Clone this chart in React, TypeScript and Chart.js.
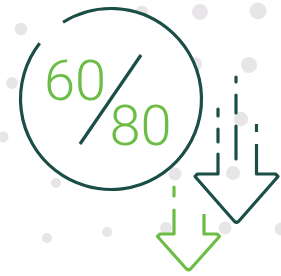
import React, { useEffect, useRef } from "react";
import { Chart, registerables } from "chart.js";

Chart.register(...registerables);

const W = 281;
const H = 276;

const DARK = "#1b4e46";
const GREEN = "#6cbd45";
const DOT = "#e7e5e8";

// background dots
const dotX = [21, 142, 200, 258, 249, 195, 12, 3, 241, 56, 175, 233, 107, 47, 166, 225, 281];
const dotY = [29, 12, 12, 11, 65, 64, 83, 137, 119, 183, 174, 173, 232, 238, 228, 228, 229];
const dotR = [6.3, 6.3, 8, 8.5, 8, 7, 6, 5.5, 7.2, 5, 6.5, 7, 5, 5, 6, 6.5, 6.5];

// ring
const ringCenter = [111, 99];
const ringRadius = 90.5;
const ringGap = [122, 142]; // degrees, counter-clockwise, y up

// slash
const slashX = [141, 80];
const slashY = [55, 144];

// dark arrow (null = gap between dashes)
const darkArrowX = [218, 218, null, 218, 218, null, 218, 218, 197.5, 195, 234.5, 236.5, 238.5, 278, 275.5, 256.5, 256.5, null, 256.5, 256.5];
const darkArrowY = [109, 116, null, 129, 142, null, 154, 174, 174, 176.5, 221.5, 222.5, 221.5, 176.5, 174, 174, 144, null, 132, 124];
const darkMidX = [236, 236, null, 236, 236, null, 236, 236];
const darkMidY = [77, 82, null, 95, 113, null, 126, 159];

// green arrow
const greenArrowX = [174, 174, null, 174, 174, 160, 157.5, 186.5, 188.5, 190.5, 219.5, 217, 204, 204];
const greenArrowY = [187, 196, null, 210, 234, 234, 236.5, 269, 270, 269, 236.5, 234, 234, 214];

// labels
const labelText = ["60", "80"];
const labelX = [75, 140.5];
const labelY = [100, 144.5];

const pts = (xs: (number | null)[], ys: (number | null)[]) =>
  xs.map((x, i) => ({ x: x === null ? NaN : x, y: ys[i] === null ? null : ys[i] }));

const overlay = {
  id: "overlay",
  afterDatasetsDraw(chart: any) {
    const { ctx } = chart;
    const xs = chart.scales.x;
    const ys = chart.scales.y;
    ctx.save();
    const cx = xs.getPixelForValue(ringCenter[0]);
    const cy = ys.getPixelForValue(ringCenter[1]);
    const r = Math.abs(xs.getPixelForValue(ringCenter[0] + ringRadius) - cx);
    ctx.strokeStyle = DARK;
    ctx.lineWidth = 3.2;
    ctx.lineCap = "butt";
    ctx.beginPath();
    ctx.arc(cx, cy, r, (-ringGap[1] * Math.PI) / 180, (-ringGap[0] * Math.PI) / 180, true);
    ctx.stroke();
    ctx.fillStyle = GREEN;
    ctx.font = "300 56px Roboto";
    ctx.textAlign = "center";
    ctx.textBaseline = "alphabetic";
    labelText.forEach((t, i) => {
      ctx.fillText(t, xs.getPixelForValue(labelX[i]), ys.getPixelForValue(labelY[i]));
    });
    ctx.restore();
  },
};

export default function App() {
  const ref = useRef<HTMLCanvasElement>(null);
  useEffect(() => {
    document.body.style.margin = "0";
    const lineDs = (data: any, color: string, order: number) => ({
      type: "line" as const,
      data,
      borderColor: color,
      borderWidth: 3.2,
      borderJoinStyle: "round" as const,
      borderCapStyle: "butt" as const,
      pointRadius: 0,
      pointHoverRadius: 0,
      spanGaps: false,
      fill: false,
      tension: 0,
      clip: false as any,
      order,
    });
    const chart = new Chart(ref.current!, {
      type: "scatter",
      data: {
        datasets: [
          lineDs(pts(slashX, slashY), DARK, 0),
          lineDs(pts(darkArrowX, darkArrowY), DARK, 0),
          lineDs(pts(darkMidX, darkMidY), DARK, 0),
          lineDs(pts(greenArrowX, greenArrowY), GREEN, 0),
          {
            type: "bubble",
            data: [{ x: ringCenter[0], y: ringCenter[1], r: ringRadius }],
            backgroundColor: "#ffffff",
            borderWidth: 0,
            hoverRadius: 0,
            clip: false as any,
            order: 2,
          } as any,
          {
            type: "bubble",
            data: dotX.map((x, i) => ({ x, y: dotY[i], r: dotR[i] })),
            backgroundColor: DOT,
            borderWidth: 0,
            hoverRadius: 0,
            clip: false as any,
            order: 3,
          } as any,
        ],
      },
      options: {
        animation: false,
        responsive: false,
        maintainAspectRatio: false,
        events: [],
        layout: { padding: 0, autoPadding: false },
        plugins: { legend: { display: false }, tooltip: { enabled: false } },
        scales: {
          x: { type: "linear", min: 0, max: W, display: false },
          y: { type: "linear", min: 0, max: H, reverse: true, display: false },
        },
      },
      plugins: [overlay],
    } as any);
    return () => chart.destroy();
  }, []);
  return (
    <div style={{ position: "absolute", left: 0, top: 0, width: W, height: H }}>
      <canvas ref={ref} width={W} height={H} style={{ display: "block" }} />
    </div>
  );
}
